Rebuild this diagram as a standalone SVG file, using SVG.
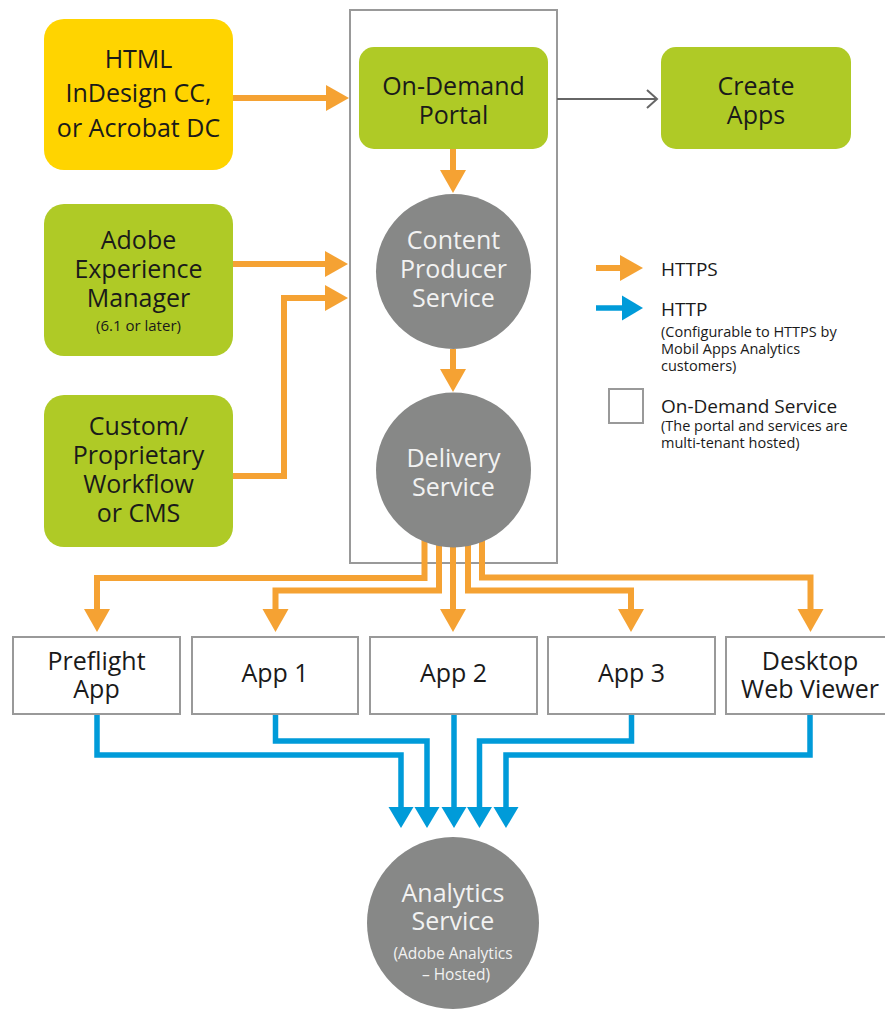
<svg xmlns="http://www.w3.org/2000/svg" width="885" height="1009" viewBox="0 0 885 1009">
<style>
text{font-family:"Open Sans","Noto Sans","DejaVu Sans",sans-serif;text-anchor:middle}
.t{font-size:25px;fill:#1a1a1a}
.w{font-size:25px;fill:#f2f2f2}
.s{font-size:15px;fill:#1a1a1a}
.sw{font-size:15.5px;fill:#f2f2f2}
.green{fill:#AFCA26}
.yellow{fill:#FFD400}
.circ{fill:#878887}
.app{fill:#fff;stroke:#999;stroke-width:2}
.o{fill:none;stroke:#F5A233;stroke-width:6}
.b{fill:none;stroke:#009BD9;stroke-width:5.5}
.lg{font-size:19px;fill:#1a1a1a;text-anchor:start}
.ls{font-size:14.5px;fill:#1a1a1a;text-anchor:start}
</style>
<defs>
<marker id="ao" markerUnits="userSpaceOnUse" markerWidth="23" markerHeight="26" refX="0" refY="13" orient="auto" overflow="visible">
<path d="M0,0 L23,13 L0,26 Z" fill="#F5A233"/>
</marker>
<marker id="ab" markerUnits="userSpaceOnUse" markerWidth="21" markerHeight="25" refX="0" refY="12.5" orient="auto" overflow="visible">
<path d="M0,0 L21,12.5 L0,25 Z" fill="#009BD9"/>
</marker>
<marker id="ag" markerUnits="userSpaceOnUse" markerWidth="12" markerHeight="20" refX="10" refY="9" orient="auto" overflow="visible">
<path d="M0,0 L10,9 L0,18" fill="none" stroke="#666" stroke-width="2"/>
</marker>
</defs>

<g id="on-demand-service">
<rect x="350" y="10" width="207" height="553" fill="none" stroke="#999" stroke-width="2"/>
</g>

<g id="connectors">
<path class="o" d="M233,98 H326" marker-end="url(#ao)"/>
<path class="o" d="M453,149 V170" marker-end="url(#ao)"/>
<path class="o" d="M453,349 V369" marker-end="url(#ao)"/>
<path class="o" d="M233,264 H325" marker-end="url(#ao)"/>
<path class="o" d="M233,476 H284 V298 H325" marker-end="url(#ao)"/>
<path class="o" d="M424.5,535 V578 H97 V609" marker-end="url(#ao)"/>
<path class="o" d="M439,535 V590.5 H275.5 V609" marker-end="url(#ao)"/>
<path class="o" d="M453,535 V609" marker-end="url(#ao)"/>
<path class="o" d="M468,535 V590.5 H631 V609" marker-end="url(#ao)"/>
<path class="o" d="M482,535 V577.5 H810.5 V609" marker-end="url(#ao)"/>
<path class="b" d="M97,714 V755 H401 V807" marker-end="url(#ab)"/>
<path class="b" d="M275.5,714 V741 H427 V807" marker-end="url(#ab)"/>
<path class="b" d="M454,714 V807" marker-end="url(#ab)"/>
<path class="b" d="M631.5,714 V741 H479.5 V807" marker-end="url(#ab)"/>
<path class="b" d="M810,714 V755 H506 V807" marker-end="url(#ab)"/>
<path d="M557,99 H657" fill="none" stroke="#666" stroke-width="2" marker-end="url(#ag)"/>
</g>

<g id="html-source">
<rect class="yellow" x="44" y="19" width="189" height="151" rx="20"/>
<text class="t" x="138.5" y="68">HTML</text>
<text class="t" x="138.5" y="102">InDesign CC,</text>
<text class="t" x="138.5" y="137">or Acrobat DC</text>
</g>

<g id="aem">
<rect class="green" x="44" y="204" width="189" height="152" rx="20"/>
<text class="t" x="138.5" y="249">Adobe</text>
<text class="t" x="138.5" y="278">Experience</text>
<text class="t" x="138.5" y="307">Manager</text>
<text class="s" x="138.5" y="331">(6.1 or later)</text>
</g>

<g id="custom">
<rect class="green" x="44" y="395" width="189" height="152" rx="20"/>
<text class="t" x="138.5" y="435">Custom/</text>
<text class="t" x="138.5" y="464">Proprietary</text>
<text class="t" x="138.5" y="493">Workflow</text>
<text class="t" x="138.5" y="522">or CMS</text>
</g>

<g id="portal">
<rect class="green" x="359" y="47" width="189" height="102" rx="15"/>
<text class="t" x="453.5" y="95">On-Demand</text>
<text class="t" x="453.5" y="124">Portal</text>
</g>

<g id="create-apps">
<rect class="green" x="661" y="47" width="190" height="102" rx="15"/>
<text class="t" x="756" y="95">Create</text>
<text class="t" x="756" y="124">Apps</text>
</g>

<g id="content-producer">
<circle class="circ" cx="453.5" cy="271.5" r="77.5"/>
<text class="w" x="453.5" y="249">Content</text>
<text class="w" x="453.5" y="278">Producer</text>
<text class="w" x="453.5" y="307">Service</text>
</g>

<g id="delivery">
<circle class="circ" cx="453.5" cy="470" r="77.5"/>
<text class="w" x="453.5" y="467">Delivery</text>
<text class="w" x="453.5" y="496">Service</text>
</g>

<g id="preflight">
<rect class="app" x="13" y="637" width="167" height="77"/>
<text class="t" x="96.5" y="670">Preflight</text>
<text class="t" x="96.5" y="698">App</text>
</g>
<g id="app1">
<rect class="app" x="192" y="637" width="166" height="77"/>
<text class="t" x="275" y="682">App 1</text>
</g>
<g id="app2">
<rect class="app" x="370" y="637" width="167" height="77"/>
<text class="t" x="453.5" y="682">App 2</text>
</g>
<g id="app3">
<rect class="app" x="548" y="637" width="167" height="77"/>
<text class="t" x="631.5" y="682">App 3</text>
</g>
<g id="desktop">
<rect class="app" x="726" y="637" width="168" height="77"/>
<text class="t" x="810" y="670">Desktop</text>
<text class="t" x="810" y="698">Web Viewer</text>
</g>

<g id="analytics">
<circle class="circ" cx="453" cy="923" r="86"/>
<text class="w" x="453" y="902">Analytics</text>
<text class="w" x="453" y="930">Service</text>
<text class="sw" x="453" y="959">(Adobe Analytics</text>
<text class="sw" x="456" y="980">– Hosted)</text>
</g>

<g id="legend">
<path class="o" d="M596,268 H620" marker-end="url(#ao)"/>
<path class="b" d="M596,308 H622" marker-end="url(#ab)"/>
<text class="lg" x="661" y="276">HTTPS</text>
<text class="lg" x="661" y="316">HTTP</text>
<text class="ls" x="661" y="337">(Configurable to HTTPS by</text>
<text class="ls" x="661" y="354">Mobil Apps Analytics</text>
<text class="ls" x="661" y="371">customers)</text>
<rect x="609" y="389" width="34" height="34" fill="none" stroke="#999" stroke-width="2"/>
<text class="lg" x="661" y="413">On-Demand Service</text>
<text class="ls" x="661" y="431">(The portal and services are</text>
<text class="ls" x="661" y="448">multi-tenant hosted)</text>
</g>
</svg>
